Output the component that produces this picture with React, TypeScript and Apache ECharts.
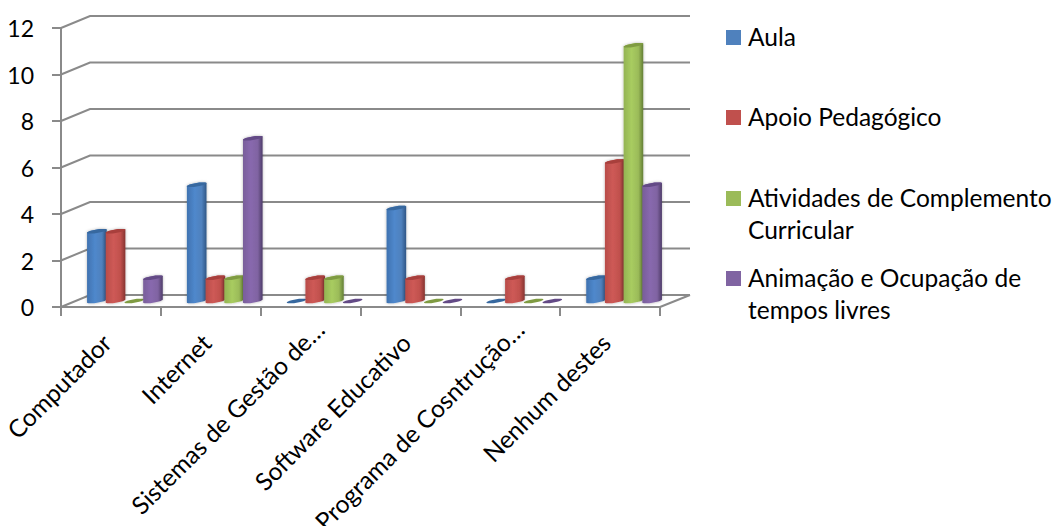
import React, { useEffect, useRef } from "react";
import * as echarts from "echarts";

const categories = [
  "Computador",
  "Internet",
  "Sistemas de Gestão de…",
  "Software Educativo",
  "Programa de Cosntrução…",
  "Nenhum destes",
];
const aula = [3, 5, 0, 4, 0, 1];
const apoio = [3, 1, 1, 1, 1, 6];
const atividades = [0, 1, 1, 0, 0, 11];
const animacao = [1, 7, 0, 0, 0, 5];
const wallTicks = [0, 2, 4, 6, 8, 10, 12];

const seriesNames = [
  "Aula",
  "Apoio Pedagógico",
  "Atividades de Complemento Curricular",
  "Animação e Ocupação de tempos livres",
];
const legendLines = [
  ["Aula"],
  ["Apoio Pedagógico"],
  ["Atividades de Complemento", "Curricular"],
  ["Animação e Ocupação de", "tempos livres"],
];
const legendTops = [37, 117, 198, 278];

const palettes = [
  { base: "#4F81BD", edge: "#3F72B0", light: "#4F88CC", dark: "#2F5686", top: "#37689F" },
  { base: "#C0504D", edge: "#B84C49", light: "#CE5A56", dark: "#863431", top: "#A83F3C" },
  { base: "#9BBB59", edge: "#93B353", light: "#A8CC60", dark: "#647F36", top: "#7F9B42" },
  { base: "#8064A2", edge: "#785E9A", light: "#8868AE", dark: "#4E3C69", top: "#634A86" },
];

const FONT = "Lato";
const DEPTH_X = 29;
const DEPTH_Y = 12;
const AXIS_GREY = "#8A8A8A";

// Column footprint, in pixels, relative to the front plane of the chart
const MID_X = 14;
const MID_Y = 6;
const COL_STEP = 18.7;
const RADIUS = 9.8;
const TILT = 1.5;
const ROUND = 1.8;

function rim(cx: number, cy: number, from: number, to: number) {
  const pts: number[][] = [];
  const steps = 24;
  for (let k = 0; k <= steps; k++) {
    const t = from + ((to - from) * k) / steps;
    pts.push([
      cx + RADIUS * Math.cos(t),
      cy + ROUND * Math.sin(t) - TILT * Math.cos(t),
    ]);
  }
  return pts;
}

function columnRenderer(index: number) {
  const pal = palettes[index];
  return (_params: any, api: any) => {
    const value = api.value(1);
    const [bandX, topY] = api.coord([api.value(0), value]);
    const baseY = api.coord([api.value(0), 0])[1];
    const cx = bandX + MID_X + (index - 1.5) * COL_STEP;
    const yTop = topY - MID_Y;
    const yBase = baseY - MID_Y;
    const cap = { type: "polygon", shape: { points: rim(cx, yTop, 0, Math.PI * 2) } };
    if (value === 0) {
      return { ...cap, style: { fill: pal.top } };
    }
    const body = [...rim(cx, yTop, Math.PI, Math.PI * 2), ...rim(cx, yBase, 0, Math.PI)];
    return {
      type: "group",
      children: [
        {
          type: "polygon",
          shape: { points: body },
          style: {
            fill: new echarts.graphic.LinearGradient(0, 0, 1, 0, [
              { offset: 0, color: pal.edge },
              { offset: 0.4, color: pal.light },
              { offset: 0.75, color: pal.base },
              { offset: 1, color: pal.dark },
            ]),
            shadowBlur: 3,
            shadowColor: "rgba(0,0,0,0.3)",
          },
        },
        { ...cap, style: { fill: pal.top } },
      ],
    };
  };
}

// Back wall lines, the slanted lines joining them to the axis, and the floor edge
function wallRenderer(params: any, api: any) {
  const cs = params.coordSys;
  const y = api.coord([0, api.value(0)])[1];
  const left = cs.x;
  const right = cs.x + cs.width;
  const stroke = { stroke: AXIS_GREY, lineWidth: 2, fill: "none" };
  const children: any[] = [
    {
      type: "polyline",
      shape: {
        points: [
          [left, y],
          [left + DEPTH_X, y - DEPTH_Y],
          [right + DEPTH_X + 1, y - DEPTH_Y],
        ],
      },
      style: stroke,
    },
  ];
  if (api.value(0) === 0) {
    children.push({
      type: "line",
      shape: { x1: right, y1: y, x2: right + DEPTH_X + 1, y2: y - DEPTH_Y },
      style: stroke,
    });
  }
  return { type: "group", children };
}

function legendGraphics() {
  const items: any[] = [];
  legendLines.forEach((lines, i) => {
    items.push({
      type: "rect",
      left: 726,
      top: legendTops[i] - 7,
      shape: { x: 0, y: 0, width: 15, height: 15 },
      style: { fill: palettes[i].base },
    });
    lines.forEach((line, j) => {
      items.push({
        type: "text",
        x: 748,
        y: legendTops[i] - 1 + j * 32,
        style: {
          text: line,
          font: `24.5px ${FONT}`,
          fill: "#000",
          textVerticalAlign: "middle",
        },
      });
    });
  });
  return items;
}

// Truncated names sit a little further along their slant than the complete ones
function categoryItems() {
  return categories.map((name) => ({
    value: name,
    textStyle: { padding: name.endsWith("…") ? [0, -13, 0, 0] : [0, 6, 0, 0] },
  }));
}

export default function App() {
  const ref = useRef<HTMLDivElement>(null);

  useEffect(() => {
    document.body.style.margin = "0";
    const chart = echarts.init(ref.current!, null, { renderer: "svg" });
    const columns = [aula, apoio, atividades, animacao];
    chart.setOption({
      animation: false,
      backgroundColor: "#fff",
      grid: { left: 61, width: 599, top: 28, height: 279, containLabel: false, outerBoundsMode: "none" },
      xAxis: {
        type: "category",
        data: categoryItems(),
        boundaryGap: true,
        axisLine: { show: true, lineStyle: { color: AXIS_GREY, width: 2 } },
        axisTick: { show: true, length: 9, alignWithLabel: false, lineStyle: { color: AXIS_GREY, width: 2 } },
        axisLabel: {
          interval: 0,
          rotate: 45,
          margin: 27,
          color: "#000",
          fontFamily: FONT,
          fontSize: 24.5,
          hideOverlap: false,
        },
        splitLine: { show: false },
      },
      yAxis: {
        type: "value",
        min: 0,
        max: 12,
        interval: 2,
        axisLine: { show: true, lineStyle: { color: AXIS_GREY, width: 2 } },
        axisTick: { show: true, length: 9, lineStyle: { color: AXIS_GREY, width: 2 } },
        axisLabel: { margin: 27, color: "#000", fontFamily: FONT, fontSize: 23, padding: [0, 0, 2, 0] },
        splitLine: { show: false },
      },
      series: [
        {
          type: "custom",
          name: "walls",
          silent: true,
          clip: false,
          z: 1,
          data: wallTicks.map((v) => [v]),
          encode: { y: 0 },
          renderItem: wallRenderer,
        },
        ...columns.map((values, i) => ({
          type: "custom",
          name: seriesNames[i],
          clip: false,
          z: 3,
          itemStyle: { color: palettes[i].base },
          data: values.map((v, c) => [c, v]),
          encode: { x: 0, y: 1 },
          renderItem: columnRenderer(i),
        })),
      ],
      graphic: legendGraphics(),
    });
    return () => chart.dispose();
  }, []);

  return <div ref={ref} style={{ width: 1054, height: 526 }} />;
}
